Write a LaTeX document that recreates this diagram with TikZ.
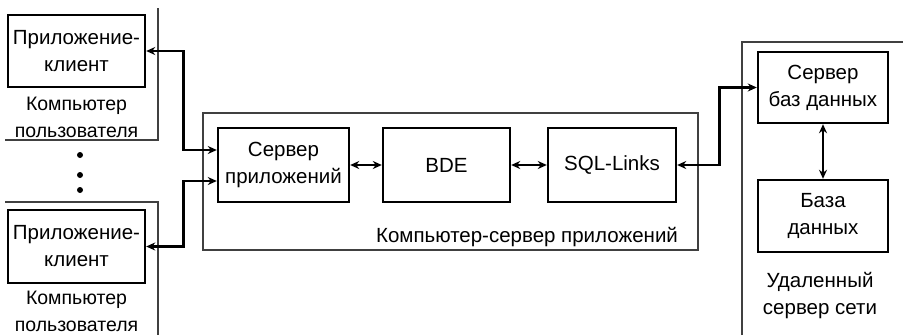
\documentclass[tikz,border=0pt]{standalone}
\usepackage{fontspec}
\setmainfont{Liberation Sans}
\usetikzlibrary{arrows.meta}

\begin{document}
\begin{tikzpicture}[
    x=1pt, y=-1pt,
    block/.style={rectangle, draw, line width=2.4pt, align=center, inner sep=0pt, font=\fontsize{20.5}{27}\selectfont},
    frame/.style={draw=black!75, line width=1.1pt},
    lbl/.style={align=center, inner sep=0pt, font=\fontsize{20.5}{27}\selectfont},
    link/.style={draw, line width=2.7pt, {Stealth[length=9pt,width=8pt]}-{Stealth[length=9pt,width=8pt]}}
]
\useasboundingbox (0,0) rectangle (903,335);

% frames
\draw[frame] (5,140) -- (158,140) -- (158,8);
\draw[frame] (5,202) -- (158,202) -- (158,335);
\draw[frame] (203,113) rectangle (698,250);
\draw[frame] (742,335) -- (742,42) -- (903,42);

% client computers
\node[block, minimum width=137, minimum height=72] (cl1) at (76.5,51) {Приложение-\\клиент};
\node[lbl, font=\fontsize{19.5}{27}\selectfont] (pc1) at (76.5,117.5) {Компьютер\\пользователя};
\node[block, minimum width=137, minimum height=73] (cl2) at (76.5,246.5) {Приложение-\\клиент};
\node[lbl, font=\fontsize{19.5}{27}\selectfont] (pc2) at (76.5,311) {Компьютер\\пользователя};
\foreach \y in {155,175,190}
    \fill (80,\y) circle (3pt);

% application server
\node[block, minimum width=131, minimum height=74] (srv) at (283.5,165) {Сервер\\приложений};
\node[block, minimum width=127, minimum height=74] (bde) at (446.5,165) {BDE};
\node[block, minimum width=128, minimum height=74] (sql) at (612,165) {SQL-Links};
\node[lbl] (aps) at (527,237) {Компьютер-сервер приложений};

% remote server
\node[block, minimum width=130, minimum height=71] (dbsrv) at (823,87.5) {Сервер\\баз данных};
\node[block, minimum width=130, minimum height=72] (db) at (823,216) {База\\данных};
\node[lbl] (rem) at (820,296) {Удаленный\\сервер сети};

% links
\draw[link] (cl1.east) -- ++(37,0) |- ([yshift=15pt]srv.west);
\draw[link] (cl2.east) -- ++(37,0) |- ([yshift=-16pt]srv.west);
\draw[link] (srv) -- (bde);
\draw[link] (bde) -- (sql);
\draw[link] (sql.east) -- ++(42,0) |- (dbsrv.west);
\draw[link] (dbsrv) -- (db);
\end{tikzpicture}
\end{document}
